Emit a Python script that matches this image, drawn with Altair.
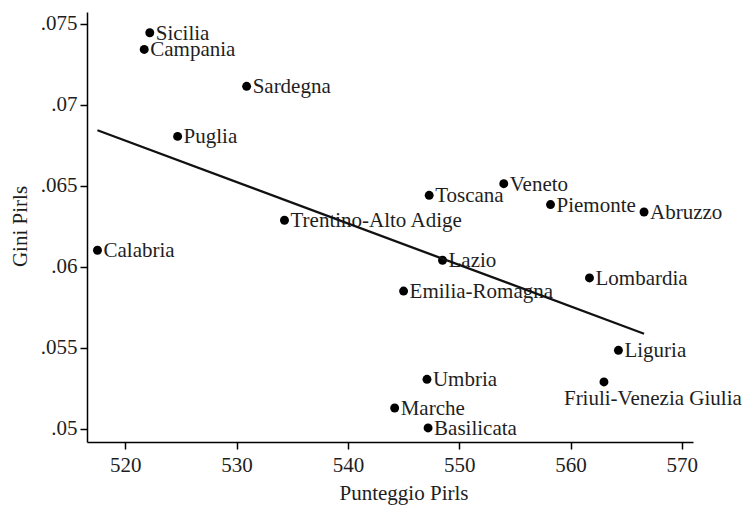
import altair as alt
import pandas as pd

# Regional PIRLS score vs. Gini index of PIRLS scores
regioni = [
    "Sicilia", "Campania", "Sardegna", "Puglia", "Trentino-Alto Adige",
    "Calabria", "Toscana", "Veneto", "Piemonte", "Abruzzo", "Lazio",
    "Lombardia", "Emilia-Romagna", "Liguria", "Friuli-Venezia Giulia",
    "Umbria", "Marche", "Basilicata",
]
punteggio = [
    522.2, 521.7, 530.9, 524.7, 534.3,
    517.5, 547.3, 554.0, 558.2, 566.6, 548.5,
    561.7, 545.0, 564.3, 563.0,
    547.1, 544.2, 547.2,
]
gini = [
    0.07444, 0.07341, 0.07113, 0.06804, 0.06286,
    0.06101, 0.06440, 0.06512, 0.06383, 0.06337, 0.06039,
    0.05930, 0.05849, 0.05483, 0.05288,
    0.05304, 0.05127, 0.05004,
]

x_ticks = [520, 530, 540, 550, 560, 570]
y_ticks = [0.05, 0.055, 0.06, 0.065, 0.07, 0.075]

df = pd.DataFrame({"regione": regioni, "punteggio": punteggio, "gini": gini})

FONT = "Liberation Serif"
FS = 21
INK = "#1e1e1e"

x_enc = alt.X(
    "punteggio:Q",
    scale=alt.Scale(domain=[516.56, 571.0], nice=False, zero=False),
    axis=alt.Axis(
        title="Punteggio Pirls",
        values=x_ticks,
        format="d",
        labelPadding=5,
        titleX=316.5,
        titleY=57,
        titleAnchor="start",
        titleAlign="center",
        titleBaseline="alphabetic",
    ),
)
y_enc = alt.Y(
    "gini:Q",
    scale=alt.Scale(domain=[0.04917, 0.07572], nice=False, zero=False),
    axis=alt.Axis(
        title="Gini Pirls",
        values=y_ticks,
        labelExpr="replace(format(datum.value, '.3~f'), '0.', '.')",
        labelPadding=3,
        titleX=-67,
        titleY=214,
        titleAngle=-90,
        titleAlign="center",
        titleBaseline="middle",
    ),
)

base = alt.Chart(df).encode(x=x_enc, y=y_enc)

labels = base.transform_filter(
    alt.datum.regione != "Friuli-Venezia Giulia"
).mark_text(
    align="left", baseline="middle", dx=6, dy=1,
    font=FONT, fontSize=FS, color=INK,
).encode(text="regione:N")

friuli_label = base.transform_filter(
    alt.datum.regione == "Friuli-Venezia Giulia"
).mark_text(
    align="left", baseline="alphabetic", dx=-40, dy=23,
    font=FONT, fontSize=FS, color=INK,
).encode(text="regione:N")

points = base.mark_circle(size=80, color="black", opacity=1)

fit = base.transform_regression("punteggio", "gini").mark_line(
    color="#111111", strokeWidth=2.3
)

chart = (
    alt.layer(labels, friuli_label, points, fit)
    .properties(
        width=606,
        height=430,
        autosize=alt.AutoSizeParams(type="none"),
        padding={"left": 87, "top": 12, "right": 56, "bottom": 63},
        background="white",
    )
    .configure_view(stroke=None)
    .configure_axis(
        grid=False,
        domainColor="black",
        domainWidth=1.5,
        tickColor="black",
        tickWidth=1.5,
        tickSize=7,
        labelFont=FONT,
        labelFontSize=FS,
        labelColor=INK,
        titleFont=FONT,
        titleFontSize=FS,
        titleFontWeight="normal",
        titleColor=INK,
    )
)

chart.save("out.html", embed_options={"renderer": "svg", "actions": False})
